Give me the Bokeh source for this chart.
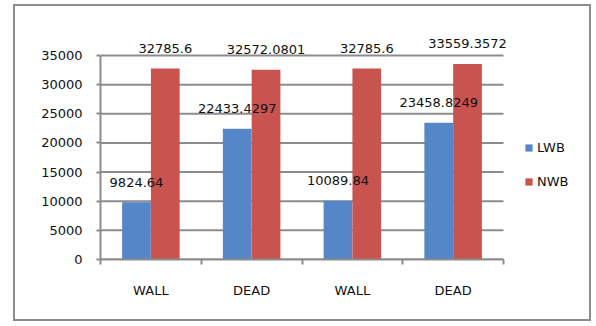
from bokeh.plotting import figure
from bokeh.models import ColumnDataSource, FixedTicker, Legend, LegendItem, LinearAxis
from bokeh.core.properties import value
from bokeh.transform import dodge
from bokeh.embed import file_html
from bokeh.resources import INLINE

categories = ["WALL", "DEAD", "WALL", "DEAD"]
lwb = [9824.64, 22433.4297, 10089.84, 23458.8249]
nwb = [32785.6, 32572.0801, 32785.6, 33559.3572]
lwb_labels = ["9824.64", "22433.4297", "10089.84", "23458.8249"]
nwb_labels = ["32785.6", "32572.0801", "32785.6", "33559.3572"]
y_ticks = [0, 5000, 10000, 15000, 20000, 25000, 30000, 35000]
y_max = 35000

xs = list(range(len(categories)))
src = ColumnDataSource(dict(x=xs, lwb=lwb, nwb=nwb, lwb_lab=lwb_labels, nwb_lab=nwb_labels))

FONT = "DejaVu Sans"
BLUE = "#5587C8"
RED = "#C9534F"
GRID = "#8C8C8C"

# layout in pixels: axis box is 403 px wide x 204 px tall; frame extended to hold labels/legend
box_w, box_h = 403.0, 204.0
extra_top, extra_right = 35.0, 82.0
n = len(categories)
x_end = (n - 0.5) + extra_right * n / box_w
y_end = y_max * (box_h + extra_top) / box_h

p = figure(width=578, height=317, output_backend="svg", toolbar_location=None,
           x_range=(-0.5, x_end), y_range=(0, y_end),
           min_border_left=85, min_border_right=8, min_border_top=14, min_border_bottom=64,
           x_axis_location=None, y_axis_location=None)
p.styles = {"border": "2px solid #8C8C8C", "margin-left": "13px", "margin-top": "4px"}
p.outline_line_color = None
p.background_fill_color = "white"
p.border_fill_color = "white"
p.xgrid.visible = False
p.ygrid.visible = False

# horizontal gridlines across the category span
p.segment(x0=[-0.5] * len(y_ticks), x1=[n - 0.5] * len(y_ticks), y0=y_ticks, y1=y_ticks,
          line_color=GRID, line_width=2)

r1 = p.vbar(x=dodge("x", -0.143, range=p.x_range), top="lwb", width=0.285, source=src,
            fill_color=BLUE, line_color=None)
r2 = p.vbar(x=dodge("x", 0.143, range=p.x_range), top="nwb", width=0.285, source=src,
            fill_color=RED, line_color=None)

p.text(x=dodge("x", -0.143, range=p.x_range), y="lwb", text="lwb_lab", source=src,
       text_align="center", text_baseline="middle", y_offset=-20,
       text_font=value(FONT), text_font_size="13px", text_color="#111111")
p.text(x=dodge("x", 0.143, range=p.x_range), y="nwb", text="nwb_lab", source=src,
       text_align="center", text_baseline="middle", y_offset=-20,
       text_font=value(FONT), text_font_size="13px", text_color="#111111")

# y axis
yax = LinearAxis(ticker=FixedTicker(ticks=y_ticks), bounds=(0, y_max))
yax.axis_line_color = GRID
yax.axis_line_width = 2
yax.major_tick_line_color = GRID
yax.major_tick_line_width = 2
yax.major_tick_out = 4
yax.major_tick_in = 0
yax.minor_tick_line_color = None
yax.major_label_standoff = 14
yax.major_label_text_font = FONT
yax.major_label_text_font_size = "13px"
yax.major_label_text_color = "#111111"
p.add_layout(yax, "left")

# x axis
xax = LinearAxis(ticker=FixedTicker(ticks=xs, minor_ticks=[i - 0.5 for i in range(n + 1)]),
                 bounds=(-0.5, n - 0.5))
xax.major_label_overrides = {i: c for i, c in enumerate(categories)}
xax.axis_line_color = GRID
xax.axis_line_width = 2
xax.major_tick_line_color = None
xax.major_tick_out = 0
xax.major_tick_in = 0
xax.minor_tick_line_color = GRID
xax.minor_tick_line_width = 2
xax.minor_tick_out = 5
xax.minor_tick_in = 0
xax.major_label_standoff = 18
xax.major_label_text_font = FONT
xax.major_label_text_font_size = "13px"
xax.major_label_text_color = "#111111"
p.add_layout(xax, "below")

legend = Legend(items=[LegendItem(label="LWB", renderers=[r1]), LegendItem(label="NWB", renderers=[r2])],
                location=(424, 70), orientation="vertical")
legend.background_fill_alpha = 0
legend.border_line_color = None
legend.padding = 0
legend.margin = 0
legend.spacing = 18
legend.glyph_width = 9
legend.glyph_height = 9
legend.label_height = 16
legend.label_standoff = 4
legend.label_text_font = FONT
legend.label_text_font_size = "13px"
legend.label_text_color = "#111111"
p.add_layout(legend, "center")

open("out.html", "w").write(file_html(p, INLINE))
